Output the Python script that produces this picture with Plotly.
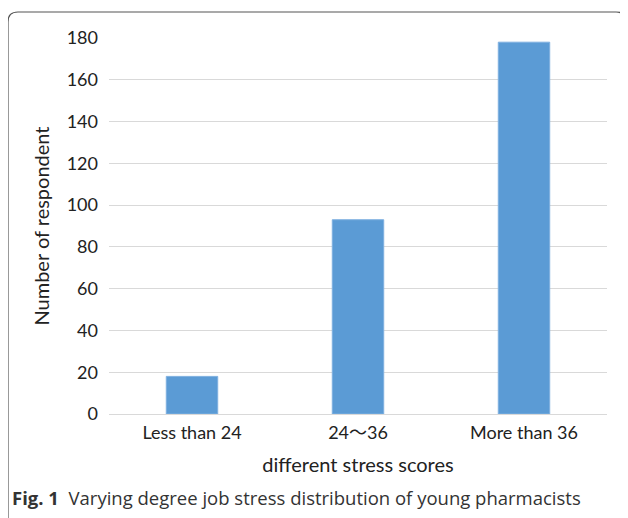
import plotly.graph_objects as go

categories = ["Less than 24", "24\u301c36", "More than 36"]
respondents = [18, 93, 178]
y_ticks = [0, 20, 40, 60, 80, 100, 120, 140, 160, 180]

OFF = 8  # page body margin
W, H = 620, 510
L, T = 109 - OFF, 38 - OFF
R = W - (607 - OFF)
B = H - (414 - OFF)
pw, ph = W - L - R, H - T - B

def px(x):
    return (x - OFF - L) / pw

def py(y):
    return (H - B - (y - OFF)) / ph

font_chart = "Lato, 'Noto Sans CJK JP', sans-serif"

fig = go.Figure(go.Bar(
    x=categories, y=respondents,
    marker=dict(color="#5b9bd5", line=dict(color="#7fb0e0", width=1)),
    width=0.31,
))

# border frame (rounded top corners)
x0, x1, y0, y1, r = px(8), px(626), py(540), py(12), 10
rx, ry = r / pw, r / ph
path = (f"M {x0},{y0} L {x0},{y1 - ry} Q {x0},{y1} {x0 + rx},{y1} "
        f"L {x1 - rx},{y1} Q {x1},{y1} {x1},{y1 - ry} L {x1},{y0}")
fig.add_shape(type="path", path=path, xref="paper", yref="paper",
              line=dict(color="#555555", width=1.2), layer="below")

fig.add_annotation(
    text="<b>Fig. 1</b>  Varying degree job stress distribution of young pharmacists",
    xref="paper", yref="paper", x=px(10), y=py(497), xanchor="left", yanchor="middle",
    showarrow=False, font=dict(family="'Open Sans', sans-serif", size=18.5, color="#333333"),
)

fig.update_layout(
    width=W, height=H,
    margin=dict(l=L, r=R, t=T, b=B),
    paper_bgcolor="white", plot_bgcolor="white",
    showlegend=False,
    font=dict(family=font_chart, size=18, color="#222222"),
    xaxis=dict(showgrid=False, showline=False, ticks="", tickfont=dict(size=18),
               ticklabelstandoff=6,
               title=dict(text="different stress scores", font=dict(size=20), standoff=15)),
    yaxis=dict(range=[0, 180], tickvals=y_ticks, showgrid=True, gridcolor="#d9d9d9",
               gridwidth=1, zeroline=True, zerolinecolor="#d9d9d9", zerolinewidth=1,
               showline=False, ticks="", ticklabelstandoff=10, tickfont=dict(size=18),
               title=dict(text="Number of respondent", font=dict(size=20), standoff=11)),
    bargap=0.69,
)

fig.write_html("out.html")
